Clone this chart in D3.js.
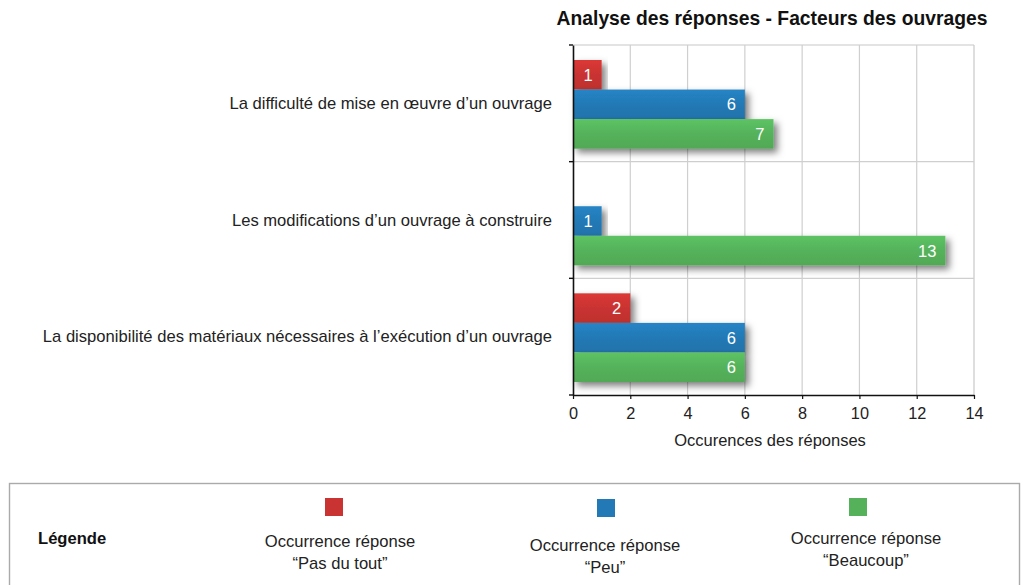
<!DOCTYPE html>
<html>
<head>
<meta charset="utf-8">
<script src="https://cdn.jsdelivr.net/npm/d3@7"></script>
<style>
  html, body { margin: 0; padding: 0; background: #fff; }
  svg { display: block; font-family: "Liberation Sans", Arial, Helvetica, sans-serif; }
</style>
</head>
<body>
<svg id="chart" width="1025" height="585"></svg>
<script>
const title = "Analyse des réponses - Facteurs des ouvrages";
const categories = [
  "La difficulté de mise en œuvre d’un ouvrage",
  "Les modifications d’un ouvrage à construire",
  "La disponibilité des matériaux nécessaires à l’exécution d’un ouvrage"
];
const seriesNames = ["pasDuTout", "peu", "beaucoup"];
const pasDuTout = [1, 0, 2];
const peu = [6, 1, 6];
const beaucoup = [7, 13, 6];
const xTicks = [0, 2, 4, 6, 8, 10, 12, 14];
const xTitle = "Occurences des réponses";
const legendTitle = "Légende";
const legendLabels = [
  ["Occurrence réponse", "“Pas du tout”"],
  ["Occurrence réponse", "“Peu”"],
  ["Occurrence réponse", "“Beaucoup”"]
];
const colors = ["#c93331", "#2379b5", "#55b25b"];

const seriesValues = [pasDuTout, peu, beaucoup];
const svg = d3.select("#chart");

const plot = { left: 573, right: 974, top: 45, bottom: 395 };

const x = d3.scaleLinear().domain([0, 14]).range([plot.left, plot.right]);
const y = d3.scaleBand().domain(categories).range([plot.top, plot.bottom]).paddingInner(0).paddingOuter(0);
const ySub = d3.scaleBand().domain(seriesNames).range([15, y.bandwidth() - 13]).padding(0);

// defs: shadow + gradients
const defs = svg.append("defs");
const f = defs.append("filter").attr("id", "shadow").attr("x", "-10%").attr("y", "-30%").attr("width", "130%").attr("height", "180%");
f.append("feDropShadow").attr("dx", 4).attr("dy", 4).attr("stdDeviation", 3.5).attr("flood-color", "#000").attr("flood-opacity", 0.5);
colors.forEach((c, i) => {
  const g = defs.append("linearGradient").attr("id", "grad" + i).attr("x1", 0).attr("x2", 0).attr("y1", 0).attr("y2", 1);
  g.append("stop").attr("offset", "0%").attr("stop-color", d3.color(c).brighter(0.25));
  g.append("stop").attr("offset", "50%").attr("stop-color", c);
  g.append("stop").attr("offset", "100%").attr("stop-color", d3.color(c).darker(0.15));
});

// title
svg.append("text").attr("x", 772).attr("y", 25).attr("text-anchor", "middle")
  .attr("font-size", 19.3).attr("font-weight", "bold").attr("fill", "#111").text(title);

// frame: top and right light lines
svg.append("line").attr("x1", plot.left).attr("x2", plot.right).attr("y1", plot.top).attr("y2", plot.top)
  .attr("stroke", "#c8c8c8").attr("stroke-width", 1.2);
svg.append("line").attr("x1", plot.right).attr("x2", plot.right).attr("y1", plot.top).attr("y2", plot.bottom)
  .attr("stroke", "#c8c8c8").attr("stroke-width", 1.2);

// vertical grid
svg.append("g").selectAll("line").data(xTicks.filter(t => t > 0 && t < 14)).join("line")
  .attr("x1", d => x(d)).attr("x2", d => x(d)).attr("y1", plot.top).attr("y2", plot.bottom)
  .attr("stroke", "#cfcfcf").attr("stroke-width", 1.2);

// horizontal category separators
svg.append("g").selectAll("line").data(categories.slice(1)).join("line")
  .attr("x1", plot.left).attr("x2", plot.right).attr("y1", d => y(d)).attr("y2", d => y(d))
  .attr("stroke", "#cfcfcf").attr("stroke-width", 1.2);

// bars
const groups = svg.append("g").selectAll("g").data(categories).join("g")
  .attr("transform", d => `translate(0,${y(d)})`);

seriesNames.forEach((s, si) => {
  const vals = seriesValues[si];
  groups.filter((d, i) => vals[i] > 0)
    .append("rect")
    .attr("x", x(0))
    .attr("y", ySub(s))
    .attr("width", (d) => x(vals[categories.indexOf(d)]) - x(0))
    .attr("height", ySub.bandwidth())
    .attr("fill", `url(#grad${si})`)
    .attr("filter", "url(#shadow)");
});
seriesNames.forEach((s, si) => {
  const vals = seriesValues[si];
  groups.filter((d, i) => vals[i] > 0)
    .append("text")
    .attr("x", d => x(vals[categories.indexOf(d)]) - 9)
    .attr("y", ySub(s) + ySub.bandwidth() / 2 + 6)
    .attr("text-anchor", "end")
    .attr("font-size", 16.5)
    .attr("fill", "#fff")
    .text(d => vals[categories.indexOf(d)]);
});

// y axis
const yAxis = d3.axisLeft(y).tickSize(0).tickPadding(21);
const yg = svg.append("g").attr("transform", `translate(${plot.left},0)`).call(yAxis);
yg.select(".domain").attr("stroke", "#111").attr("stroke-width", 1.6);
yg.selectAll(".tick text").attr("font-size", 16.6).attr("fill", "#222")
  .attr("font-family", "\"Liberation Sans\", Arial, sans-serif").attr("dy", "0.35em");
// boundary ticks on y axis
svg.append("g").selectAll("line").data(categories.map(c => y(c)).concat([plot.bottom])).join("line")
  .attr("x1", plot.left - 4).attr("x2", plot.left).attr("y1", d => d).attr("y2", d => d)
  .attr("stroke", "#111").attr("stroke-width", 1.4);

// x axis
const xAxis = d3.axisBottom(x).tickValues(xTicks).tickSize(4).tickSizeOuter(0).tickPadding(8);
const xg = svg.append("g").attr("transform", `translate(0,${plot.bottom})`).call(xAxis);
xg.select(".domain").attr("stroke", "#111").attr("stroke-width", 1.6);
xg.selectAll(".tick line").attr("stroke", "#111").attr("stroke-width", 1.2);
xg.selectAll(".tick text").attr("font-size", 16.3).attr("fill", "#222")
  .attr("font-family", "\"Liberation Sans\", Arial, sans-serif");

svg.append("text").attr("x", 770).attr("y", 446).attr("text-anchor", "middle")
  .attr("font-size", 16.5).attr("fill", "#222").text(xTitle);

// legend box
svg.append("rect").attr("x", 9.5).attr("y", 483.5).attr("width", 1010).attr("height", 120)
  .attr("fill", "#fff").attr("stroke", "#aaa").attr("stroke-width", 1.4);
svg.append("text").attr("x", 38).attr("y", 544).attr("font-size", 16.6).attr("font-weight", "bold")
  .attr("fill", "#111").text(legendTitle);

const legendCx = [340, 605, 866];
const legendSwX = [334, 606, 858];
const legendSwY = [498, 499, 498];
const legendTextY = [547, 551, 544];
legendLabels.forEach((lines, i) => {
  svg.append("rect").attr("x", legendSwX[i] - 9).attr("y", legendSwY[i]).attr("width", 18).attr("height", 18)
    .attr("fill", colors[i]);
  const t = svg.append("text").attr("text-anchor", "middle").attr("font-size", 16.6).attr("fill", "#222");
  lines.forEach((ln, j) => {
    t.append("tspan").attr("x", legendCx[i]).attr("y", legendTextY[i] + j * 21.5).text(ln);
  });
});
</script>
</body>
</html>
